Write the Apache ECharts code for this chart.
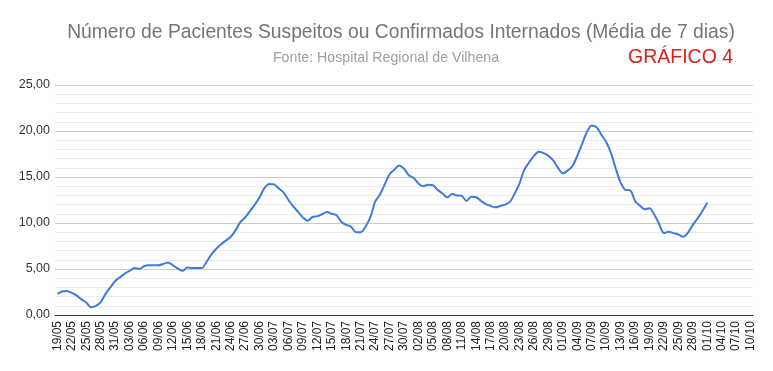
<!DOCTYPE html>
<html>
<head>
<meta charset="utf-8">
<script src="https://cdn.jsdelivr.net/npm/echarts@6/dist/echarts.min.js"></script>
<style>html,body{margin:0;padding:0;background:#fff}#c{width:773px;height:371px}</style>
</head>
<body>
<div id="c"></div>
<script>
// Categories: daily dates 19/05 .. 10/10
const startDay = 19, startMonth = 5, dayCount = 145;
const monthLengths = {5:31, 6:30, 7:31, 8:31, 9:30, 10:31};
const categories = [];
(function(){ let d = startDay, m = startMonth;
  for (let k = 0; k < dayCount; k++) {
    categories.push(String(d).padStart(2,'0') + '/' + String(m).padStart(2,'0'));
    d++; if (d > monthLengths[m]) { d = 1; m++; }
  } })();

// 7-day average of hospitalized patients, 19/05 .. 01/10
const internados = [
  2.3, 2.55, 2.6, 2.4, 2.1, 1.7, 1.35, 0.85, 1.0, 1.4,
  2.3, 3.0, 3.7, 4.1, 4.5, 4.8, 5.1, 5.0, 5.3, 5.4,
  5.4, 5.4, 5.55, 5.7, 5.4, 5.05, 4.8, 5.15, 5.1, 5.1,
  5.1, 5.8, 6.6, 7.2, 7.7, 8.1, 8.5, 9.2, 10.1, 10.6,
  11.3, 12.0, 12.8, 13.8, 14.25, 14.2, 13.75, 13.3, 12.5, 11.8,
  11.2, 10.6, 10.25, 10.65, 10.75, 10.95, 11.2, 11.0, 10.85, 10.1,
  9.8, 9.6, 9.0, 9.0, 9.6, 10.6, 12.3, 13.1, 14.2, 15.3,
  15.8, 16.25, 15.9, 15.2, 14.9, 14.3, 14.0, 14.15, 14.1, 13.6,
  13.2, 12.8, 13.15, 13.0, 12.95, 12.4, 12.85, 12.8, 12.4, 12.05,
  11.85, 11.7, 11.85, 12.0, 12.3, 13.2, 14.3, 15.8, 16.6, 17.3,
  17.75, 17.6, 17.3, 16.8, 16.0, 15.4, 15.7, 16.2, 17.3, 18.6,
  19.9, 20.6, 20.4, 19.6, 18.8, 17.6, 15.9, 14.4, 13.6, 13.55,
  12.4, 11.9, 11.5, 11.6, 10.9, 9.9, 8.9, 9.05, 8.9, 8.75,
  8.5, 8.95, 9.8, 10.5, 11.3, 12.2
];

const titleText = 'Número de Pacientes Suspeitos ou Confirmados Internados (Média de 7 dias)';
const subtitleText = 'Fonte: Hospital Regional de Vilhena';
const tagText = 'GRÁFICO 4';

const chart = echarts.init(document.getElementById('c'));
const font = '"Liberation Sans", Arial, sans-serif';
chart.setOption({
  animation: false,
  backgroundColor: '#fff',
  textStyle: { fontFamily: font },
  graphic: [
    { type: 'text', x: 401, y: 33, style: { text: titleText, fontSize: 19.3, fill: '#757575', fontFamily: font, align: 'center', verticalAlign: 'middle' } },
    { type: 'text', x: 386, y: 58, style: { text: subtitleText, fontSize: 14.2, fill: '#9e9e9e', fontFamily: font, align: 'center', verticalAlign: 'middle' } },
    { type: 'text', x: 628, y: 58, style: { text: tagText, fontSize: 19.5, fill: '#d8231d', fontFamily: font, align: 'left', verticalAlign: 'middle' } }
  ],
  grid: { left: 55, right: 20, top: 85, bottom: 56, containLabel: false },
  xAxis: {
    type: 'category',
    data: categories,
    boundaryGap: true,
    axisLine: { show: true, lineStyle: { color: '#333', width: 1 } },
    axisTick: { show: false },
    axisLabel: { interval: 2, rotate: 90, fontSize: 12, color: '#222', margin: 6, fontFamily: font },
    splitLine: { show: false }
  },
  yAxis: {
    type: 'value',
    min: 0, max: 25, interval: 5,
    axisLine: { show: false },
    axisTick: { show: false },
    axisLabel: { fontSize: 12.5, color: '#333', margin: 5, fontFamily: font,
      formatter: v => v.toFixed(2).replace('.', ',') },
    splitLine: { show: true, lineStyle: { color: '#cccccc', width: 1 } },
    minorTick: { show: false, splitNumber: 5 },
    minorSplitLine: { show: true, lineStyle: { color: '#ebebeb', width: 1 } }
  },
  series: [{
    type: 'line',
    data: internados,
    smooth: 0.3,
    showSymbol: false,
    lineStyle: { color: '#3f7bdc', width: 2 },
    itemStyle: { color: '#3f7bdc' }
  }]
});
</script>
</body>
</html>
